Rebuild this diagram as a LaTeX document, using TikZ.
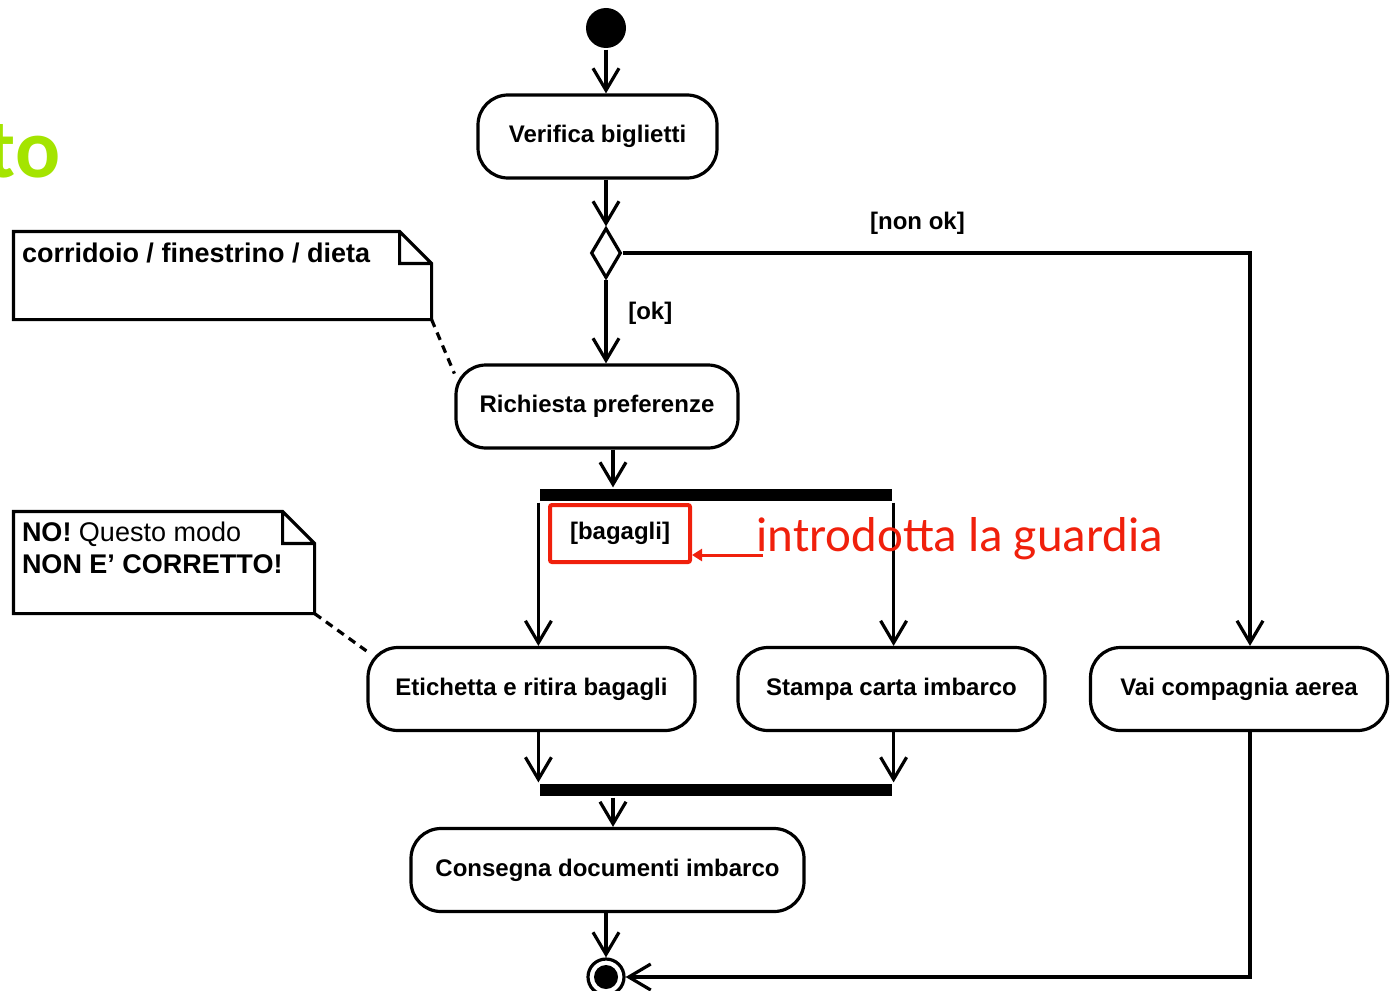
\documentclass[tikz,border=0pt]{standalone}
\usepackage{fontspec}
\setmainfont{Liberation Sans}
\newfontfamily\carlito{Carlito}
\usetikzlibrary{arrows.meta,shapes.geometric}
\definecolor{guardred}{RGB}{240,32,12}
\definecolor{titlegreen}{RGB}{164,228,0}

\begin{document}
\begin{tikzpicture}[x=0.5pt, y=-0.5pt, line width=1.6pt,
    activity/.style={draw, rounded corners=15pt, minimum height=41.5pt, font=\bfseries\fontsize{12}{14}\selectfont},
    decision/.style={diamond, draw, minimum width=15pt, minimum height=25pt, inner sep=0pt},
    bar/.style={fill=black, minimum width=176pt, minimum height=6pt, inner sep=0pt},
    initial/.style={circle, fill=black, minimum size=20pt, inner sep=0pt},
    final/.style={circle, draw, minimum size=18pt, inner sep=0pt,
      path picture={\fill (path picture bounding box.center) circle (6pt);}},
    flow/.style={-{Straight Barb[length=11pt,width=13pt]}},
    guard/.style={font=\bfseries\fontsize{12}{14}\selectfont},
    notebox/.style={inner sep=0pt},
    notetext/.style={inner sep=0pt, font=\bfseries\fontsize{13.5}{16}\selectfont}]
    \useasboundingbox (0,0) rectangle (1390,990);

    % 開始・終了
    \node[initial] (start) at (606,28) {};
    \node[final] (end) at (606,977) {};

    % アクティビティ
    \node[activity, minimum width=119.5pt] (verifica) at (597.5,136.5) {Verifica biglietti};
    \node[decision] (dec) at (606,253) {};
    \node[activity, minimum width=141pt] (richiesta) at (597,406.5) {Richiesta preferenze};
    \node[bar] (fork) at (716,495) {};
    \node[activity, minimum width=163.5pt] (etichetta) at (531.5,689) {Etichetta e ritira bagagli};
    \node[activity, minimum width=153.5pt] (stampa) at (891.5,689) {Stampa carta imbarco};
    \node[activity, minimum width=148.5pt] (vai) at (1239,689) {Vai compagnia aerea};
    \node[bar] (join) at (716,790) {};
    \node[activity, minimum width=196.5pt] (consegna) at (607.5,870) {Consegna documenti imbarco};

    \coordinate (axis) at (613,0);
    \coordinate (side) at (1250,0);

    % エッジ
    \draw[flow] (start) -- (start |- verifica.north);
    \draw[flow] (verifica.south -| dec) -- (dec.north);
    \draw[flow] (dec.south) -- node[guard, right=7pt, pos=0.4] {[ok]} (dec.south |- richiesta.north);
    \draw[flow] (dec.east) -| node[guard, above=5pt, pos=0.235] {[non ok]} (side |- vai.north);
    \draw[flow] (richiesta.south -| axis) -- (axis |- fork.north);
    \draw[flow] (fork.south west) -- (fork.south west |- etichetta.north);
    \draw[flow] (fork.south east) -- (fork.south east |- stampa.north);
    \draw[flow] (etichetta.south -| join.west) -- (join.north west);
    \draw[flow] (stampa.south -| join.east) -- (join.north east);
    \draw[flow] (join.south -| axis) -- (axis |- consegna.north);
    \draw[flow] (consegna.south -| end) -- (end.north);
    \draw[flow] (vai.south -| side) |- (end.east);

    % ノート
    \node[notebox, minimum width=207.5pt, minimum height=42.5pt] (note1) at (222.5,275.5) {};
    \node[notetext, anchor=north west] (text1) at ([xshift=3.5pt,yshift=-5pt]note1.north west) {corridoio / finestrino / dieta};
    \node[notebox, minimum width=149pt, minimum height=49.5pt] (note2) at (164,562.5) {};
    \node[notetext, anchor=north west, align=left] (text2) at ([xshift=3.5pt,yshift=-4.5pt]note2.north west)
      {NO! {\mdseries Questo modo}\\NON E' CORRETTO!};
    \foreach \n in {note1,note2}
      \draw (\n.south west) -- (\n.north west) -- ([xshift=-16pt]\n.north east) -- ([yshift=-16pt]\n.north east) -- (\n.south east) -- cycle
        ([xshift=-16pt]\n.north east) |- ([yshift=-16pt]\n.north east);
    \draw[dash pattern=on 4pt off 3pt] (note1.south east) -- (richiesta.167);
    \draw[dash pattern=on 4pt off 3pt] (note2.south east) -- (etichetta.167);

    % 赤い注記
    \node[guard, draw=guardred, line width=2pt, rounded corners=1pt, minimum width=70pt, minimum height=28.5pt] (bagagli) at (620,533.5) {[bagagli]};
    \node[anchor=base west, inner sep=0pt, text=guardred, font=\carlito\fontsize{24.5}{28}\selectfont] (intro) at (755,551) {introdotta la guardia};
    \draw[guardred, line width=1.5pt, -{Triangle[length=5pt,width=6pt]}] ([xshift=4pt,yshift=-2pt]intro.base west) -- ([yshift=-2pt]intro.base west -| bagagli.east);

    % タイトルの一部
    \node[anchor=base east, inner sep=0pt, text=titlegreen, font=\carlito\bfseries\fontsize{42}{48}\selectfont] (title) at (62,177) {to};
\end{tikzpicture}
\end{document}
